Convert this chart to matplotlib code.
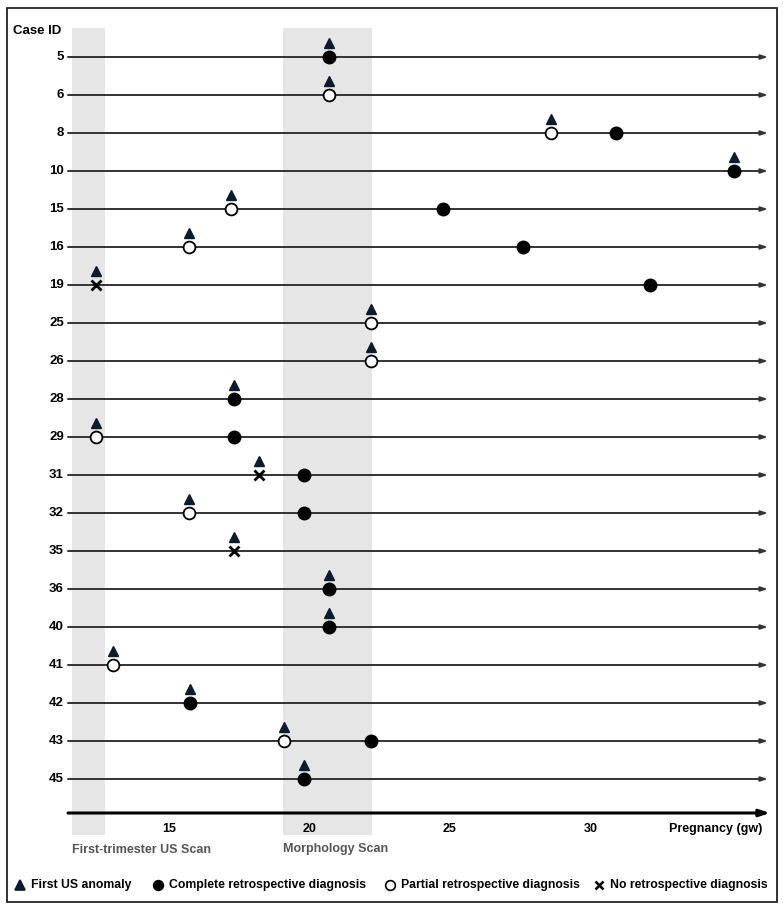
import matplotlib.pyplot as plt
import numpy as np
from matplotlib.patches import Rectangle

nan = np.nan

# Case IDs (top to bottom)
cases = [5, 6, 8, 10, 15, 16, 19, 25, 26, 28, 29, 31, 32, 35, 36, 40, 41, 42, 43, 45]

# gestational weeks
first_us = [20.7, 20.7, 28.6, 35.1, 17.2, 15.7, 12.4, 22.2, 22.2, 17.3,
            12.4, 18.2, 15.7, 17.3, 20.7, 20.7, 13.0, 15.75, 19.1, 19.8]
complete = [20.7, nan, 30.9, 35.1, 24.75, 27.6, 32.1, nan, nan, 17.3,
            17.3, 19.8, 19.8, nan, 20.7, 20.7, nan, 15.75, 22.2, 19.8]
partial = [nan, 20.7, 28.6, nan, 17.2, 15.7, nan, 22.2, 22.2, nan,
           12.4, nan, 15.7, nan, nan, nan, 13.0, nan, 19.1, nan]
no_diag = [nan, nan, nan, nan, nan, nan, 12.4, nan, nan, nan,
           nan, 18.2, nan, 17.3, nan, nan, nan, nan, nan, nan]

ticks = [15, 20, 25, 30]
first_trim = (11.55, 12.72)
morpho = (19.05, 22.21)

# ---- figure: one axes over the whole figure, x in weeks, y in row number
W, H = 783, 908
fig = plt.figure(figsize=(W / 100, H / 100), dpi=100)
ax = fig.add_axes([0, 0, 1, 1])
x0, pxw = 15 - 169 / 28.1, 28.1     # week at pixel 0, pixels per week
y0, pxr = -57 / 38.0, 38.0          # row at pixel 0, pixels per row
ax.set_xlim(x0, x0 + W / pxw)
ax.set_ylim(y0 + H / pxr, y0)
ax.axis('off')

def px2x(p):
    return x0 + p / pxw

def px2y(p):
    return y0 + p / pxr

rows = np.arange(len(cases))
dark = '#333333'
tri = '#0d1b2a'
sans = ['Liberation Sans', 'DejaVu Sans']
narrow = ['Liberation Sans Narrow', 'Liberation Sans', 'DejaVu Sans']

# grey scan bands
for a, b in [first_trim, morpho]:
    ax.add_patch(Rectangle((a, px2y(28)), b - a, px2y(835) - px2y(28),
                           facecolor='#e6e6e6', edgecolor='none', zorder=0))

# one arrow line per case
for r, c in zip(rows, cases):
    ax.annotate('', xy=(px2x(768), r), xytext=(px2x(68), r),
                arrowprops=dict(arrowstyle='-|>,head_length=0.4,head_width=0.13',
                                color=dark, lw=1.4, shrinkA=0, shrinkB=0), zorder=1)
    ax.text(px2x(64), r, str(c), ha='right', va='center', fontsize=9.5,
            fontweight='bold', family=sans)

ax.text(px2x(13), px2y(31), 'Case ID', ha='left', va='center', fontsize=9.5,
        fontweight='bold', family=sans)

# markers
off = 14 / pxr
ax.plot(first_us, rows - off, ls='none', marker='^', ms=7, color=tri, zorder=3)
ax.plot(complete, rows, ls='none', marker='o', ms=9, color='black', zorder=3)
ax.plot(partial, rows, ls='none', marker='o', ms=8.5, mfc='white', mec='black',
        mew=1.3, zorder=3)
ax.plot(no_diag, rows, ls='none', marker='x', ms=6.5, color='black', mew=2, zorder=3)

# bottom pregnancy axis
ya = px2y(813)
ax.annotate('', xy=(px2x(770), ya), xytext=(px2x(68), ya),
            arrowprops=dict(arrowstyle='-|>,head_length=0.6,head_width=0.2',
                            color='black', lw=2.2, shrinkA=0, shrinkB=0))
for t in ticks:
    ax.text(t, px2y(829), str(t), ha='center', va='center', fontsize=9,
            fontweight='bold', family=narrow)
ax.text(px2x(762), px2y(829), 'Pregnancy (gw)', ha='right', va='center',
        fontsize=9, fontweight='bold', family=narrow)
ax.text(first_trim[0], px2y(850), 'First-trimester US Scan', ha='left', va='center',
        fontsize=9, fontweight='bold', color='#555555', family=narrow)
ax.text(morpho[0], px2y(849), 'Morphology Scan', ha='left', va='center',
        fontsize=9, fontweight='bold', color='#555555', family=narrow)

# legend drawn by hand along the bottom
yl = px2y(885)
leg = [(20, '^', tri, tri, 'First US anomaly'),
       (158, 'o', 'black', 'black', 'Complete retrospective diagnosis'),
       (390, 'o', 'white', 'black', 'Partial retrospective diagnosis'),
       (599, 'x', 'black', 'black', 'No retrospective diagnosis')]
for p, m, fc, ec, lab in leg:
    ax.plot([px2x(p)], [yl], marker=m, ms=7 if m != 'x' else 6, mfc=fc, mec=ec,
            mew=1.2 if m != 'x' else 1.8, ls='none', clip_on=False)
    ax.text(px2x(p + 11), yl, lab, ha='left', va='center', fontsize=8.8,
            fontweight='bold', family=narrow)

# outer frame
fig.patches.append(Rectangle((7 / W, 1 - 902 / H), 770 / W, 894 / H,
                             transform=fig.transFigure, fill=False,
                             edgecolor='#222222', lw=1.3))

fig.savefig('out.png', dpi=100)
